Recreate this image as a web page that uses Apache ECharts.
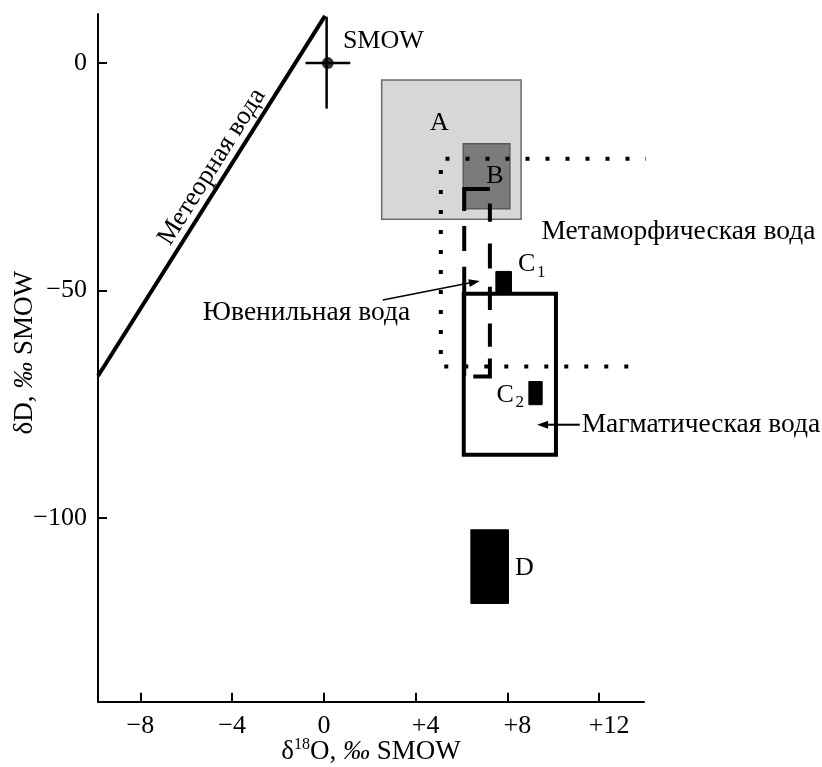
<!DOCTYPE html>
<html>
<head>
<meta charset="utf-8">
<script src="https://cdn.jsdelivr.net/npm/echarts@6/dist/echarts.min.js"></script>
<style>
  html, body { margin: 0; padding: 0; background: #fff; }
  #chart { width: 822px; height: 767px; }
</style>
</head>
<body>
<div id="chart"></div>
<script>
const FONT = '"Liberation Serif", "Times New Roman", serif';
const FS = 26;

// Axis ranges: δ18O and δD, ‰ SMOW
const xRange = [-9.85, 13.96];
const yRange = [-140.4, 10.8];
const xTicks = [-8, -4, 0, 4, 8, 12];
const yTicks = [-100, -50, 0];

// Meteoric water line, δD = 8·δ18O + 10
const meteoricLine = [[-9.85, -68.8], [0.05, 10.4]];

// SMOW point with its cross
const smowPoint = [[0.17, 0]];
const smowCrossH = [[-0.8, 0], [1.15, 0]];
const smowCrossV = [[0.12, 10.2], [0.12, -10.0]];

// Fields as [δ18O from, δ18O to, δD from, δD to]
const fieldA = [[2.52, 8.6, -3.7, -34.3]];
const fieldB = [[6.08, 8.11, -17.7, -32.0]];
const magmaticField = [[6.1, 10.12, -50.7, -86.1]];
const solidFields = [
  [7.5, 8.18, -45.8, -50.8],    // C1
  [8.94, 9.52, -70.0, -75.1],   // C2
  [6.41, 8.05, -102.6, -118.8]  // D
];

// Metamorphic waters (dotted outline)
const metamorphicOutline = [[14.2, -21.0], [5.1, -21.0], [5.1, -66.7], [13.4, -66.7]];
// Juvenile waters (dashed outline), traced from the upper right corner
const juvenileOutline = [[7.24, -27.7], [7.24, -68.9], [6.12, -68.9], [6.12, -27.7], [7.24, -27.7]];
const juvenileDash = [0, 14.3, 18.4, 21.6, 25, 18.4, 23.3, 13.3, 23.4, 11.6, 34.7, 9.5, 109.4, 15.6, 25, 15, 48.5, 60];

// Pointer arrows: [from x, from y, to x, to y]
const arrows = [
  [2.57, -52.1, 6.8, -47.9],
  [11.16, -79.5, 9.3, -79.5]
];

// Text annotations
const labelTexts = [
  'SMOW', 'A', 'B', 'C', 'C', 'D',
  'Метаморфическая вода', 'Ювенильная вода', 'Магматическая вода', 'Метеорная вода'
];
const labelSubs = ['', '', '', '1', '2', '', '', '', '', ''];
const labelPositions = [
  [0.83, 4.9], [5.04, -13.2], [7.46, -24.9], [8.46, -44.2], [7.53, -72.9], [8.33, -111.0],
  [9.49, -37.1], [-5.28, -54.9], [11.24, -79.5], [-4.88, -22.8]
];
const labelAligns = ['left', 'center', 'center', 'left', 'left', 'left', 'left', 'left', 'left', 'center'];
const labelSizes = [FS, FS, FS, FS, FS, FS, 27.5, 27.5, 27.5, 26.5];
const labelRotations = [0, 0, 0, 0, 0, 0, 0, 0, 0, 57.8];

function rectSeries(data, style) {
  return {
    type: 'custom',
    data: data,
    encode: { x: [0, 1], y: [2, 3] },
    clip: false,
    silent: true,
    renderItem: function (params, api) {
      const a = api.coord([api.value(0), api.value(2)]);
      const b = api.coord([api.value(1), api.value(3)]);
      return {
        type: 'rect',
        shape: {
          x: Math.min(a[0], b[0]), y: Math.min(a[1], b[1]),
          width: Math.abs(b[0] - a[0]), height: Math.abs(b[1] - a[1])
        },
        style: style
      };
    }
  };
}

function lineSeries(data, width, dash, clip) {
  return {
    type: 'line',
    data: data,
    symbol: 'none',
    silent: true,
    clip: clip,
    lineStyle: { color: '#000', width: width, type: dash, cap: 'butt', join: 'miter' }
  };
}

const option = {
  animation: false,
  backgroundColor: '#fff',
  grid: { left: 98, right: 178, top: 14, bottom: 65.3, containLabel: false, outerBoundsMode: 'none' },
  xAxis: {
    type: 'value',
    min: xRange[0], max: xRange[1],
    splitLine: { show: false },
    axisLine: { onZero: false, lineStyle: { color: '#000', width: 2 } },
    axisTick: { inside: true, length: 9, customValues: xTicks, lineStyle: { color: '#000', width: 2 } },
    axisLabel: {
      customValues: xTicks,
      margin: 11,
      color: '#000',
      fontSize: FS, fontFamily: FONT, lineHeight: 26,
      formatter: function (v) {
        if (v > 0) return '{p|+' + v + '}';
        if (v < 0) return '\u2212' + Math.abs(v);
        return '0';
      },
      rich: { p: { fontSize: FS, fontFamily: FONT, lineHeight: 26, color: '#000', padding: [0, 0, 0, 20] } }
    },
    name: 'δ{sup|18}O, {it|‰} SMOW',
    nameLocation: 'middle',
    nameGap: 35,
    nameMoveOverlap: false,
    nameTextStyle: {
      color: '#000', fontSize: 27, fontFamily: FONT, lineHeight: 30,
      rich: {
        sup: { fontSize: 16, fontFamily: FONT, lineHeight: 20, verticalAlign: 'top', color: '#000' },
        it: { fontSize: 27, fontFamily: FONT, fontStyle: 'italic', lineHeight: 30, color: '#000' }
      }
    }
  },
  yAxis: {
    type: 'value',
    min: yRange[0], max: yRange[1],
    splitLine: { show: false },
    axisLine: { onZero: false, lineStyle: { color: '#000', width: 2 } },
    axisTick: { inside: true, length: 9, customValues: yTicks, lineStyle: { color: '#000', width: 2 } },
    axisLabel: {
      customValues: yTicks,
      margin: 11,
      color: '#000',
      fontSize: FS, fontFamily: FONT,
      formatter: function (v) { return v < 0 ? '\u2212' + Math.abs(v) : String(v); }
    },
    name: 'δD, {it|‰} SMOW',
    nameLocation: 'middle',
    nameGap: 58,
    nameMoveOverlap: false,
    nameTextStyle: {
      color: '#000', fontSize: 27, fontFamily: FONT, lineHeight: 30,
      padding: [0, 0, 0, 10],
      rich: { it: { fontSize: 27, fontFamily: FONT, fontStyle: 'italic', lineHeight: 30, color: '#000' } }
    }
  },
  series: [
    rectSeries(fieldA, { fill: '#d7d7d7', stroke: '#6a6a6a', lineWidth: 1.5 }),
    rectSeries(fieldB, { fill: '#7b7b7b', stroke: '#5a5a5a', lineWidth: 1.5 }),
    lineSeries(metamorphicOutline, 4, [4, 16], false),
    lineSeries(juvenileOutline, 4, juvenileDash, false),
    rectSeries(magmaticField, { fill: 'none', stroke: '#000', lineWidth: 4 }),
    rectSeries(solidFields, { fill: '#000', stroke: '#000', lineWidth: 1 }),
    lineSeries(meteoricLine, 4, 'solid', false),
    lineSeries(smowCrossH, 2.5, 'solid', false),
    lineSeries(smowCrossV, 2.5, 'solid', false),
    {
      type: 'scatter',
      data: smowPoint,
      symbol: 'circle',
      symbolSize: 12,
      silent: true,
      itemStyle: { color: '#000' }
    },
    {
      type: 'custom',
      data: arrows,
      encode: { x: [0, 2], y: [1, 3] },
      clip: false,
      silent: true,
      renderItem: function (params, api) {
        const a = api.coord([api.value(0), api.value(1)]);
        const b = api.coord([api.value(2), api.value(3)]);
        const dx = b[0] - a[0], dy = b[1] - a[1];
        const len = Math.sqrt(dx * dx + dy * dy);
        const ux = dx / len, uy = dy / len;
        const headL = 11, headW = 4;
        const base = [b[0] - ux * headL, b[1] - uy * headL];
        return {
          type: 'group',
          children: [
            { type: 'line', shape: { x1: a[0], y1: a[1], x2: base[0], y2: base[1] },
              style: { stroke: '#000', lineWidth: params.dataIndex === 0 ? 1.5 : 2 } },
            { type: 'polygon', shape: { points: [
                b,
                [base[0] - uy * headW, base[1] + ux * headW],
                [base[0] + uy * headW, base[1] - ux * headW]
              ] }, style: { fill: '#000' } }
          ]
        };
      }
    },
    {
      type: 'custom',
      data: labelPositions,
      encode: { x: 0, y: 1 },
      clip: false,
      silent: true,
      renderItem: function (params, api) {
        const i = params.dataIndex;
        const p = api.coord([api.value(0), api.value(1)]);
        const children = [{
          type: 'text',
          x: p[0], y: p[1],
          rotation: labelRotations[i] * Math.PI / 180,
          style: {
            text: labelTexts[i],
            fill: '#000',
            fontSize: labelSizes[i],
            fontFamily: FONT,
            align: labelAligns[i],
            verticalAlign: 'middle'
          }
        }];
        if (labelSubs[i]) {
          children.push({
            type: 'text',
            x: p[0] + 19, y: p[1] + 8,
            style: {
              text: labelSubs[i],
              fill: '#000',
              fontSize: 17,
              fontFamily: FONT,
              align: 'left',
              verticalAlign: 'middle'
            }
          });
        }
        return { type: 'group', children: children };
      }
    }
  ]
};

const chart = echarts.init(document.getElementById('chart'), null, { renderer: 'canvas' });
chart.setOption(option);
</script>
</body>
</html>
